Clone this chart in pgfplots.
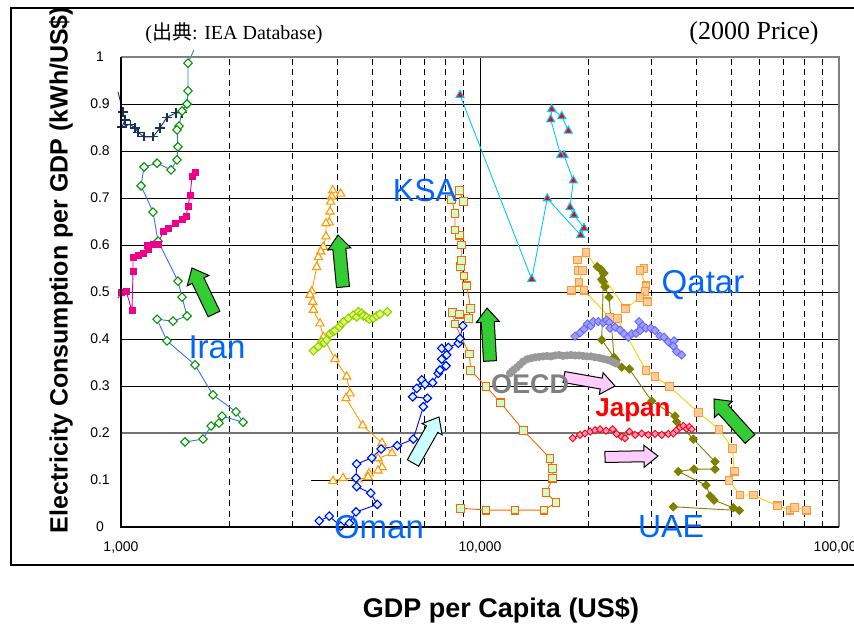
\documentclass[border=0pt]{standalone}
\usepackage{pgfplots}
\pgfplotsset{compat=1.18}
\usepackage{fontspec}
\setmainfont{Liberation Sans}
\newfontfamily\seriffont{Liberation Serif}
\newfontfamily\cjkfont{Noto Sans CJK JP}
\usetikzlibrary{calc}

\definecolor{irannavy}{RGB}{20,50,90}
\definecolor{iranline}{RGB}{60,110,240}
\definecolor{irangreen}{RGB}{0,150,0}
\definecolor{triorange}{RGB}{255,153,0}
\definecolor{ygedge}{RGB}{153,204,0}
\definecolor{ygfill}{RGB}{215,255,120}
\definecolor{omanblue}{RGB}{0,0,255}
\definecolor{omanfill}{RGB}{200,255,255}
\definecolor{ksaorange}{RGB}{255,102,0}
\definecolor{ksafill}{RGB}{204,255,204}
\definecolor{skyline}{RGB}{0,200,255}
\definecolor{qline}{RGB}{255,204,0}
\definecolor{qedge}{RGB}{255,153,51}
\definecolor{qfill}{RGB}{255,204,153}
\definecolor{uaeolive}{RGB}{128,128,0}
\definecolor{oecdgray}{RGB}{153,153,153}
\definecolor{periedge}{RGB}{102,102,255}
\definecolor{perifill}{RGB}{160,160,255}
\definecolor{jpfill}{RGB}{255,153,204}
\definecolor{labelblue}{RGB}{0,102,255}
\definecolor{arrowgreen}{RGB}{51,204,51}
\definecolor{arrowpink}{RGB}{255,204,255}
\definecolor{arrowcyan}{RGB}{204,255,255}

% block arrow: fill, tail, tip, shaft half-width, head half-width
\newcommand{\blockarrow}[5]{%
  \coordinate (bT) at (#2);
  \coordinate (bH) at (#3);
  \coordinate (bN) at ($(bH)!14pt!(bT)$);
  \filldraw[fill=#1, draw=black, line width=1pt, line join=miter]
    ($(bT)!#4!90:(bH)$) -- ($(bN)!#4!-90:(bT)$) -- ($(bN)!#5!-90:(bT)$) -- (bH) --
    ($(bN)!#5!90:(bT)$) -- ($(bN)!#4!90:(bT)$) -- ($(bT)!#4!-90:(bH)$) -- cycle;}

\begin{document}
\begin{tikzpicture}
\useasboundingbox (0,0) rectangle (854pt,627pt);
\begin{axis}[
  at={(121pt,100pt)}, anchor=south west,
  width=718pt, height=470pt, scale only axis,
  xmode=log, xmin=1000, xmax=100000, ymin=0, ymax=1,
  clip=false,
  axis line style={draw=none},
  tick style={draw=none},
  xtick={1000,10000,100000},
  xticklabels={{1,000},{10,000},{100,000}},
  ytick={0,0.1,0.2,0.3,0.4,0.5,0.6,0.7,0.8,0.9,1},
  yticklabels={0,0.1,0.2,0.3,0.4,0.5,0.6,0.7,0.8,0.9,1},
  minor xtick={2000,3000,4000,5000,6000,7000,8000,9000,20000,30000,40000,50000,60000,70000,80000,90000},
  xminorgrids,
  minor x grid style={black, dash pattern=on 6pt off 4.5pt, line width=0.8pt},
  xticklabel style={font=\fontsize{14}{16}\selectfont, anchor=center, yshift=-21pt},
  yticklabel style={font=\fontsize{14}{16}\selectfont, anchor=center, xshift=-21pt},
]
% horizontal grid
\pgfplotsinvokeforeach{0.3,0.4,0.5,0.6,0.7,0.8,0.9}{
  \draw[black, line width=0.8pt] (axis cs:1000,#1) -- (axis cs:100000,#1);
}
\draw[black!55, line width=1.6pt] (axis cs:1000,0.2) -- (axis cs:100000,0.2);
\draw[black, line width=0.8pt] (axis cs:3381,0.1) -- (axis cs:100000,0.1);
\draw[black, line width=0.8pt] (axis cs:10000,0) -- (axis cs:10000,1);

% Iran (lower series)
\addplot[irannavy, line width=0.9pt, mark=none] coordinates {(981,0.926)(1013,0.883)};
\addplot[irannavy, line width=0.9pt, mark=+, mark size=4.6pt, mark options={line width=1.1pt}] coordinates {
(1013,0.883)(1026,0.866)(1006,0.851)(1060,0.857)(1094,0.849)(1115,0.840)(1159,0.830)(1228,0.830)(1284,0.849)(1343,0.872)(1423,0.881)(1479,0.881)};

% Iran
\addplot[iranline, line width=0.9pt, mark=none] coordinates {(1597,1.015)(1537,0.987)};
\addplot[iranline, line width=0.9pt, mark=square*, mark size=3pt, mark options={rotate=45, draw=irangreen, fill=white, line width=1.1pt}] coordinates {
(1537,0.987)(1537,0.928)(1527,0.900)(1479,0.885)(1451,0.853)(1432,0.845)(1441,0.809)(1432,0.781)(1378,0.760)(1260,0.774)(1159,0.766)(1137,0.726)(1228,0.670)(1268,0.608)(1441,0.523)(1479,0.489)(1527,0.449)(1396,0.438)(1260,0.442)(1343,0.396)(1607,0.345)(1804,0.281)(2091,0.245)(2188,0.223)(1911,0.236)(1875,0.221)(1782,0.215)(1692,0.187)(1507,0.181)};

% magenta series
\addplot[magenta, line width=0.9pt, mark=none] coordinates {(1006,0.500)(981,0.487)};
\addplot[magenta, line width=0.9pt, mark=square*, mark size=3pt] coordinates {
(1607,0.755)(1577,0.745)(1557,0.706)(1537,0.683)(1517,0.660)(1479,0.655)(1414,0.645)(1352,0.636)(1309,0.628)(1268,0.602)(1228,0.602)(1181,0.600)(1189,0.590)(1152,0.583)(1115,0.577)(1080,0.574)(1080,0.543)(1073,0.460)(1033,0.502)(1006,0.500)};

% orange triangles
\addplot[triorange, line width=0.9pt, mark=triangle*, mark size=4.8pt, mark options={fill=white, line width=1.1pt}] coordinates {
(4093,0.709)(3889,0.716)(3863,0.703)(3838,0.692)(3822,0.671)(3804,0.648)(3724,0.646)(3724,0.618)(3660,0.596)(3600,0.586)(3545,0.574)(3509,0.553)(3398,0.501)(3361,0.494)(3420,0.479)(3434,0.462)(3584,0.433)(3660,0.404)(3946,0.357)(4253,0.320)(4344,0.284)(4234,0.274)(4713,0.216)(5334,0.179)(5687,0.157)(5199,0.146)(5334,0.127)(5199,0.120)(4907,0.114)(4875,0.106)(4573,0.101)(4153,0.104)(3896,0.098)};

% yellow-green diamonds
\addplot[ygedge, line width=0.9pt, mark=square*, mark size=3pt, mark options={rotate=45, draw=ygedge, fill=ygfill, line width=1.1pt}] coordinates {
(3434,0.375)(3545,0.384)(3623,0.394)(3678,0.392)(3741,0.398)(3822,0.411)(3904,0.416)(3946,0.418)(4055,0.426)(4120,0.433)(4181,0.437)(4297,0.444)(4437,0.451)(4534,0.447)(4581,0.458)(4682,0.455)(4730,0.449)(4835,0.446)(4916,0.442)(5045,0.444)(5156,0.449)(5267,0.453)(5520,0.458)};

% Oman
\addplot[omanblue, line width=0.9pt, mark=square*, mark size=3pt, mark options={rotate=45, draw=omanblue, fill=omanfill, line width=1.1pt}] coordinates {
(3567,0.013)(3802,0.023)(4093,0.002)(4325,0.008)(4514,0.032)(5175,0.048)(4961,0.072)(4534,0.086)(4514,0.104)(4534,0.134)(4993,0.147)(5301,0.166)(5884,0.173)(6520,0.187)(6952,0.256)(7132,0.274)(6494,0.277)(6664,0.295)(6881,0.313)(7028,0.304)(7382,0.307)(7651,0.327)(7737,0.334)(8042,0.343)(7821,0.357)(8077,0.366)(7821,0.380)(8161,0.382)(8702,0.391)(8797,0.401)(8949,0.428)};

% KSA
\addplot[ksaorange, line width=0.9pt, mark=square*, mark size=3.9pt, mark options={draw=ksaorange, fill=ksafill, line width=1.1pt}] coordinates {
(8837,0.040)(10392,0.036)(12517,0.036)(15077,0.036)(16280,0.052)(15270,0.073)(15940,0.104)(15940,0.125)(15668,0.146)(13200,0.206)(11420,0.264)(10392,0.299)(9421,0.333)(9337,0.368)(8520,0.432)(8395,0.456)(8759,0.453)(9277,0.444)(9421,0.465)(9183,0.513)(9024,0.534)(8837,0.554)(8892,0.567)(8892,0.600)(8759,0.621)(8520,0.632)(8520,0.667)(8341,0.697)(8759,0.716)(8984,0.692)};

% cyan / red triangles
\addplot[skyline, line width=0.9pt, mark=triangle*, mark size=4.6pt, mark options={draw=skyline, fill=red, line width=1.1pt}] coordinates {
(8797,0.919)(13932,0.527)(15397,0.699)(19077,0.621)(19487,0.636)(18275,0.664)(17814,0.680)(18195,0.737)(17140,0.791)(16780,0.791)(15740,0.867)(15843,0.889)(16888,0.874)(17620,0.843)};

% Qatar
\addplot[qline, line width=0.9pt, mark=square*, mark size=3.9pt, mark options={draw=qedge, fill=qfill, line width=1.1pt}] coordinates {
(28630,0.550)(27910,0.545)(29000,0.513)(28820,0.501)(29240,0.479)(27910,0.489)(25460,0.464)(19740,0.584)(18670,0.568)(18790,0.545)(19320,0.545)(18870,0.521)(18010,0.504)(19490,0.504)(22920,0.446)(24130,0.443)(29000,0.333)(30730,0.320)(33680,0.299)(40550,0.244)(46320,0.208)(50450,0.167)(51100,0.119)(49390,0.099)(53000,0.068)(57710,0.068)(67320,0.045)(73010,0.036)(75060,0.042)(81280,0.036)};

% UAE
\addplot[uaeolive, line width=0.9pt, mark=square*, mark size=2.9pt, mark options={rotate=45, draw=uaeolive, fill=uaeolive}] coordinates {
(34540,0.043)(52760,0.035)(50760,0.041)(44850,0.057)(43720,0.066)(42610,0.089)(35670,0.118)(39460,0.123)(45140,0.123)(45140,0.139)(39290,0.187)(35310,0.224)(34930,0.236)(30080,0.268)(26060,0.336)(24810,0.340)(23620,0.361)(22880,0.489)(22290,0.511)(22150,0.540)(21690,0.548)(21220,0.554)(21830,0.527)(22050,0.522)(21830,0.398)(23920,0.355)};

% OECD
\addplot[oecdgray, line width=0.9pt, mark=*, mark size=3.6pt, mark options={draw=oecdgray, fill=oecdgray}] coordinates {
(12120,0.327)(12280,0.331)(12440,0.335)(12680,0.340)(12930,0.346)(13180,0.352)(13520,0.357)(13870,0.359)(14230,0.361)(14600,0.362)(14980,0.363)(15370,0.364)(15770,0.363)(16180,0.365)(16600,0.366)(17030,0.364)(17470,0.365)(17920,0.366)(18390,0.365)(18870,0.365)(19360,0.364)(19860,0.363)(20380,0.363)(20910,0.361)(21450,0.360)(22010,0.358)(22580,0.356)(23020,0.354)(23470,0.351)(23920,0.348)};

% periwinkle diamonds
\addplot[periedge, line width=0.9pt, mark=square*, mark size=2.9pt, mark options={rotate=45, draw=periedge, fill=perifill}] coordinates {
(18390,0.406)(18990,0.413)(19490,0.421)(19900,0.432)(20340,0.428)(20680,0.437)(21360,0.437)(22050,0.435)(22530,0.440)(22920,0.435)(23020,0.423)(23770,0.425)(24550,0.419)(25180,0.411)(25890,0.404)(26460,0.411)(27200,0.412)(27730,0.437)(28400,0.428)(27910,0.418)(29000,0.423)(29890,0.423)(30730,0.418)(31720,0.406)(32540,0.404)(33460,0.394)(34700,0.396)(34540,0.385)(35310,0.373)(36460,0.366)};

% Japan
\addplot[red, line width=0.9pt, mark=square*, mark size=2.5pt, mark options={rotate=45, draw=red, fill=jpfill}] coordinates {
(18120,0.189)(18990,0.196)(19610,0.199)(20250,0.203)(20910,0.206)(21590,0.208)(22440,0.205)(23420,0.208)(24030,0.198)(24810,0.192)(25340,0.189)(26060,0.203)(27030,0.196)(28210,0.199)(29430,0.196)(30730,0.198)(32080,0.196)(33460,0.198)(34540,0.199)(35310,0.206)(36070,0.212)(36840,0.215)(37650,0.209)(38280,0.213)(38880,0.208)};
\end{axis}

\begin{scope}[shift={(0,627pt)}, x=1pt, y=-1pt]
  % outer frame and axis spines
  \draw[black, line width=1.5pt] (870,8) -- (11,8) -- (11,565) -- (870,565);
  \draw[black!50, line width=1.2pt] (121,57) -- (839,57) -- (839,527);
  \draw[black, line width=1.4pt] (121,57) -- (121,527) -- (839,527);

  % arrows
  \blockarrow{arrowgreen}{214,314}{192,268}{6.5pt}{12pt}
  \blockarrow{arrowgreen}{343,287}{338,235}{6.5pt}{11.5pt}
  \blockarrow{arrowgreen}{490,361}{487,308}{6.5pt}{11.5pt}
  \blockarrow{arrowgreen}{750,439}{714,399}{6.5pt}{12pt}
  \blockarrow{arrowcyan}{413,463}{439,417}{6.5pt}{11.5pt}
  \blockarrow{arrowpink}{564,377}{615,386}{5.5pt}{11pt}
  \blockarrow{arrowpink}{605,457}{658,456}{5.5pt}{11pt}

  % country labels
  \node[labelblue, font=\fontsize{33}{33}\selectfont] at (217,347) {Iran};
  \node[labelblue, font=\fontsize{32}{32}\selectfont] at (425,190) {KSA};
  \node[labelblue, font=\fontsize{33}{33}\selectfont] at (703,285) {Qatar};
  \node[labelblue, font=\fontsize{33}{33}\selectfont] at (379,527) {Oman};
  \node[labelblue, font=\fontsize{32}{32}\selectfont] at (671,527) {UAE};
  \node[black!50, font=\bfseries\fontsize{27}{27}\selectfont] at (530,384) {OECD};
  \node[red, font=\bfseries\fontsize{26}{26}\selectfont] at (633,410) {Japan};

  % notes
  \node[font=\seriffont\fontsize{20}{20}\selectfont] at (234,33) {({\cjkfont 出典}: IEA Database)};
  \node[font=\seriffont\fontsize{26}{26}\selectfont] at (754,33) {(2000 Price)};

  % axis titles
  \node[font=\bfseries\fontsize{25}{25}\selectfont, rotate=90] at (61,270) {Electricity Consumption per GDP (kWh/US\$)};
  \node[font=\bfseries\fontsize{27}{27}\selectfont] at (501,610) {GDP per Capita (US\$)};
\end{scope}
\end{tikzpicture}
\end{document}
